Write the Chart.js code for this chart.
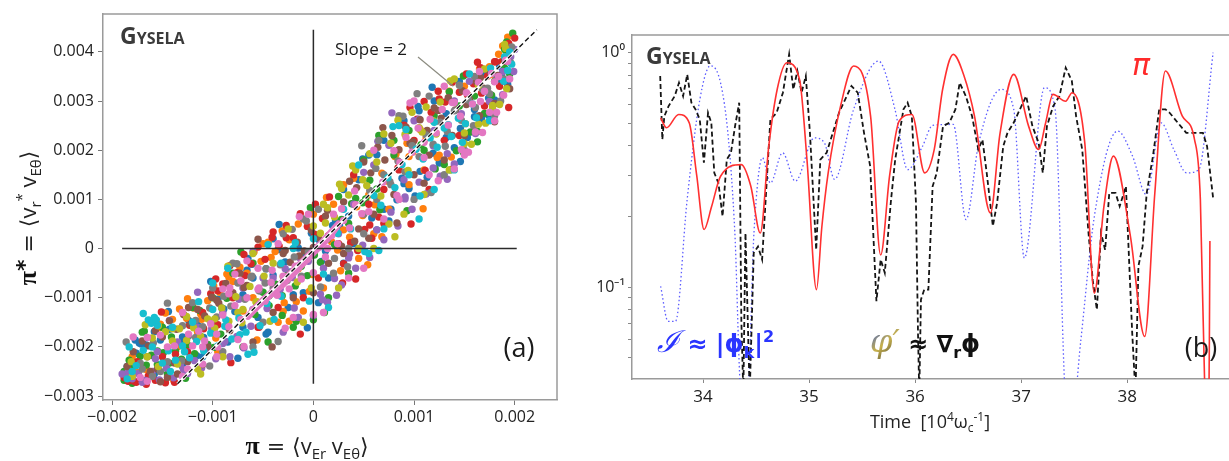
<!DOCTYPE html>
<html>
<head>
<meta charset="utf-8">
<script src="https://cdn.jsdelivr.net/npm/chart.js@4.4.1/dist/chart.umd.min.js"></script>
<style>
  body { margin: 0; background: #fff; }
  #wrap { position: relative; width: 1229px; height: 461px; overflow: hidden; }
  canvas { position: absolute; top: 0; }
  #scatter { left: 0; }
  #series { left: 575px; }
</style>
</head>
<body>
<div id="wrap">
  <canvas id="scatter" width="575" height="461"></canvas>
  <canvas id="series" width="654" height="461"></canvas>
</div>
<script>
// ---- panel (a): pi* versus pi, point pairs in units of 1e-3 ----
const UNIT = 1e-3;
const runBlue = [[-1.76,-2.13],[-1.70,-1.92],[-1.66,-1.96],[-1.58,-1.69],[-1.52,-1.86],[-1.43,-1.64],[-1.38,-1.96],[-1.30,-1.80],[-1.24,-1.46],[-1.15,-1.56],[-1.09,-1.81],[-1.02,-1.49],[-0.95,-1.03],[-0.91,-1.21],[-0.84,-0.98],[-0.78,-1.28],[-0.70,-0.94],[-0.66,-0.44],[-0.60,-0.60],[-0.53,-0.86],[-0.47,-0.41],[-0.40,-0.54],[-0.35,-0.02],[-0.28,-0.27],[-0.22,-0.47],[-0.15,0.01],[-0.08,-0.12],[-0.02,0.31],[0.06,0.17],[0.12,-0.05],[0.19,0.47],[0.26,0.46],
  [0.58,0.62],[0.63,0.38],[0.70,0.80],[0.75,0.56],[0.83,0.99],[0.88,1.43],[0.95,1.22],[1.01,1.07],[1.06,1.57],[1.13,1.45],[1.19,1.94],[1.25,1.74],[1.32,2.26],[1.40,2.05],[1.46,2.44],[1.53,2.26],[1.60,2.68],[1.67,2.64],[1.74,3.06],[1.80,3.02],[1.87,3.40],[1.93,3.34],
  [-1.77,-1.86],[-1.73,-1.92],
  [-1.30,-2.40],[-1.10,-2.20],[-0.85,-1.90],[-0.70,-1.60],[-0.55,-1.40],[-0.45,-1.70],[-0.25,-1.20],[-0.10,-0.90],[0.05,-1.10],[0.15,-0.60],[0.30,-0.30],[0.40,0.10],[0.45,1.40],[0.55,1.90],[0.70,2.20],[0.90,2.60],[1.05,2.80],[1.20,3.00],[1.45,3.40],[1.70,3.55],[1.85,3.70],[0.30,1.20],[-0.40,0.20],[-0.65,-0.20],
  [-1.85,-2.40],[-1.71,-1.94],[-1.58,-2.55],[-1.44,-1.28],[-1.30,-1.92],[-1.16,-2.18],[-1.02,-0.67],[-0.89,-1.23],[-0.75,-2.23],[-0.61,-0.32],[-0.47,-1.74],[-0.34,0.49],[-0.20,-0.94],[-0.06,-1.61],[0.08,-0.26],[0.22,0.56],[0.35,0.66],[0.49,1.82],[0.63,1.91],[0.77,0.80],[0.90,1.32],[1.04,2.89],[1.18,3.28],[1.32,2.74],[1.46,1.77],[1.60,2.83],[1.74,2.71],[1.87,3.54]];
const runOrange = [[-1.52,-1.54],[-1.47,-1.31],[-1.40,-1.44],[-1.33,-1.23],[-1.26,-1.42],[-1.19,-1.21],[-1.12,-1.33],[-1.05,-1.06],[-0.99,-0.76],[-0.93,-0.89],[-0.86,-0.52],[-0.80,-0.67],[-0.73,-0.38],[-0.66,-0.50],[-0.59,-0.07],[-0.52,-0.26],[-0.45,0.13],[-0.38,-0.06],[-0.31,0.36],[-0.24,0.18],
  [0.18,0.14],[0.24,-0.03],[0.30,0.38],[0.36,0.23],[0.43,0.85],[0.49,0.67],[0.55,1.09],[0.61,0.89],[0.68,1.53],[0.74,1.37],[0.81,1.87],[0.87,1.70],[0.93,2.14],[0.99,1.97],[1.06,2.42],[1.12,2.25],[1.18,2.66],
  [1.93,4.30],[1.88,4.12],[1.84,3.95],[-1.83,-2.55],[-1.79,-2.45],[-1.74,-2.52],
  [-0.30,-1.28],[-0.24,-1.48],[-0.17,-1.08],[-0.10,-1.27],[-0.04,-0.87],
  [-1.60,-2.60],[-1.35,-2.00],[-1.15,-1.70],[-0.95,-2.10],[-0.75,-1.80],[-0.60,-1.00],[-0.50,0.10],[-0.35,-1.50],[-0.15,0.50],[0.00,0.70],[0.10,-0.80],[0.20,0.90],[0.30,1.30],[0.45,-0.20],[0.60,0.30],[0.75,0.80],[0.95,1.30],[1.10,1.60],[1.25,1.90],[1.35,3.20],[1.50,3.30],[1.60,2.40],[1.75,3.70],[1.95,3.90],
  [-1.80,-2.20],[-1.66,-2.46],[-1.53,-1.61],[-1.39,-2.67],[-1.25,-1.02],[-1.11,-1.44],[-0.97,-1.82],[-0.84,-0.58],[-0.70,-1.27],[-0.56,-1.86],[-0.42,-0.18],[-0.29,-1.10],[-0.15,-0.41],[-0.01,-0.53],[0.13,1.04],[0.27,-0.45],[0.40,1.43],[0.54,-0.33],[0.68,0.24],[0.82,1.92],[0.95,1.87],[1.09,0.81],[1.23,1.85],[1.37,1.86],[1.51,2.54],[1.65,3.65],[1.79,3.53],[1.92,3.94]];
const runGreen = [[-1.88,-2.50],[-1.83,-2.27],[-1.78,-2.38],[-1.72,-2.19],[-1.66,-2.37],[-1.61,-2.17],[-1.55,-2.36],[-1.49,-2.12],[-1.43,-2.33],[-1.37,-2.09],[-1.31,-2.25],[-1.25,-1.96],[-1.18,-2.14],[-1.12,-1.79],[-1.05,-1.95],[-0.98,-1.57],[-0.92,-1.74],
  [-0.50,-0.89],[-0.44,-1.16],[-0.38,-0.72],[-0.31,-0.96],[-0.25,-0.50],[-0.18,-0.76],[-0.12,-0.36],[-0.06,-0.55],[0.01,-0.13],[0.07,-0.28],[0.14,0.19],[0.21,0.08],[0.28,0.59],[0.35,0.51],[0.42,1.02],[0.49,0.93],[0.56,1.39],[0.63,1.21],
  [1.30,1.71],[1.36,1.60],[1.42,1.99],[1.49,1.96],[1.56,2.37],[1.63,2.38],[1.70,2.75],[1.77,2.78],
  [1.98,4.38],[1.92,4.20],[1.90,4.05],[-1.88,-2.68],[-1.80,-2.74],[-1.45,-2.55],
  [-1.70,-1.70],[-1.50,-1.60],[-1.20,-1.20],[-1.00,-1.00],[-0.80,-0.50],[-0.60,-0.30],[-0.70,-2.00],[-0.45,-1.90],[-0.20,-1.60],[0.00,-1.45],[0.15,-1.00],[0.35,-0.50],[0.50,1.80],[0.65,2.30],[0.80,1.90],[0.95,2.40],[1.10,2.00],[1.20,2.70],[1.45,2.90],[1.60,3.10],[1.80,3.40],[1.95,3.55],
  [-1.82,-2.60],[-1.68,-1.68],[-1.55,-2.08],[-1.41,-1.80],[-1.27,-2.64],[-1.13,-1.26],[-0.99,-2.01],[-0.86,-1.01],[-0.72,-0.07],[-0.58,-1.34],[-0.44,-0.96],[-0.31,-1.36],[-0.17,-1.48],[-0.03,0.83],[0.11,-1.30],[0.25,1.06],[0.38,0.91],[0.52,1.01],[0.66,0.79],[0.80,2.20],[0.93,0.77],[1.07,2.11],[1.21,1.62],[1.35,3.19],[1.49,3.51],[1.63,2.17],[1.77,3.12],[1.90,3.67]];
const runRed = [[-1.02,-0.92],[-0.97,-0.62],[-0.90,-0.72],[-0.83,-0.35],[-0.76,-0.49],[-0.69,-0.12],[-0.62,-0.31],[-0.55,0.03],[-0.48,-0.22],[-0.41,0.23],[-0.34,0.05],[-0.27,0.47],[-0.20,0.22],[-0.13,0.71],[-0.06,0.45],[0.02,0.90],[0.09,0.61],[0.16,1.05],
  [0.90,2.51],[0.96,2.87],[1.03,2.63],[1.10,2.99],[1.17,2.77],[1.24,3.20],[1.31,2.98],[1.38,3.38],[1.45,3.18],[1.52,3.55],[1.59,3.35],[1.66,3.68],[1.73,3.51],[1.80,3.80],[1.87,3.80],[1.94,4.17],
  [-1.88,-2.62],[-1.84,-2.70],[-1.76,-2.72],[-1.66,-2.76],[-1.57,-2.68],[-1.47,-2.73],[-1.38,-2.72],
  [1.63,3.79],[2.00,4.28],
  [0.30,-0.31],[0.37,0.12],[0.44,-0.04],[0.51,0.39],[0.58,0.21],[0.65,0.64],
  [-1.75,-2.30],[-1.50,-2.20],[-1.25,-2.10],[-1.10,-1.30],[-0.95,-1.55],[-0.80,-1.00],[-0.55,-1.60],[-0.35,-1.20],[-0.10,-1.00],[0.05,-0.60],[0.25,0.10],[0.40,1.50],[0.55,0.90],[0.70,1.20],[0.85,1.60],[1.00,2.20],[1.15,1.20],[1.30,2.20],[1.45,2.30],[1.70,2.90],[1.85,3.30],[1.95,3.95],
  [-1.78,-2.70],[-1.64,-2.59],[-1.51,-1.29],[-1.37,-2.15],[-1.23,-1.56],[-1.09,-1.63],[-0.95,-0.86],[-0.82,-2.32],[-0.68,-0.55],[-0.54,-1.60],[-0.40,0.34],[-0.27,0.22],[-0.13,-1.74],[0.01,0.29],[0.15,0.26],[0.29,-0.70],[0.42,-0.62],[0.56,0.48],[0.70,0.51],[0.84,1.64],[0.97,0.50],[1.11,1.59],[1.25,3.04],[1.39,1.63],[1.53,3.13],[1.67,3.16],[1.81,3.80],[1.94,2.87]];
const runPurple = [[-1.80,-2.65],[-1.74,-2.54],[-1.67,-2.68],[-1.60,-2.50],[-1.53,-2.67],[-1.46,-2.43],[-1.39,-2.63],[-1.32,-2.35],[-1.25,-2.54],[-1.18,-2.28],[-1.11,-2.43],[-1.04,-2.07],[-0.97,-2.24],[-0.90,-1.93],[-0.83,-2.20],[-0.76,-1.79],[-0.69,-2.02],[-0.62,-1.58],
  [0.00,-1.36],[0.07,-0.93],[0.14,-1.09],[0.21,-0.61],[0.28,-0.74],[0.35,-0.19],[0.42,-0.40],[0.49,0.07],[0.56,-0.18],[0.63,0.38],[0.70,0.18],[0.77,0.74],[0.84,0.46],[0.91,1.01],[0.98,0.80],[1.05,1.35],[1.12,1.11],[1.19,1.64],[1.26,1.47],[1.33,1.93],[1.40,1.72],
  [2.00,4.05],[1.96,3.90],[1.99,3.60],[-1.84,-2.60],[-1.90,-2.55],
  [-0.40,-0.60],[-0.34,-0.80],[-0.28,-0.41],[-0.21,-0.59],[-0.14,-0.18],
  [-1.55,-2.10],[-1.35,-1.90],[-1.15,-1.60],[-0.90,-1.30],[-0.70,-0.80],[-0.50,-0.60],[-0.30,-1.70],[-0.15,-1.40],[0.10,-0.40],[0.25,0.30],[0.40,0.90],[0.60,1.70],[0.75,2.10],[0.90,1.40],[1.00,2.60],[1.20,2.40],[1.40,3.00],[1.55,3.40],[1.70,3.20],[1.88,3.60],
  [-1.84,-2.50],[-1.70,-2.72],[-1.57,-2.24],[-1.43,-1.46],[-1.29,-2.46],[-1.15,-0.89],[-1.01,-1.63],[-0.88,-1.89],[-0.74,-1.03],[-0.60,-0.06],[-0.46,-1.22],[-0.33,-0.83],[-0.19,-1.21],[-0.05,-0.26],[0.09,-1.04],[0.23,-0.95],[0.36,-0.11],[0.50,1.55],[0.64,2.18],[0.78,2.76],[0.91,1.05],[1.05,2.63],[1.19,2.09],[1.33,1.41],[1.47,2.74],[1.61,2.34],[1.75,2.99],[1.88,3.13]];
const runBrown = [[-1.70,-1.88],[-1.64,-1.98],[-1.57,-1.67],[-1.50,-1.80],[-1.43,-1.47],[-1.36,-1.64],[-1.29,-1.34],[-1.22,-1.54],[-1.15,-1.24],[-1.08,-1.37],[-1.01,-0.99],[-0.94,-1.11],[-0.87,-0.71],[-0.80,-0.90],[-0.73,-0.50],[-0.66,-0.75],
  [0.30,0.95],[0.36,1.37],[0.43,1.24],[0.50,1.76],[0.57,1.54],[0.64,2.06],[0.71,1.80],[0.78,2.30],[0.85,2.01],[0.92,2.47],[0.99,2.17],[1.06,2.62],[1.13,2.40],[1.20,2.86],[1.27,2.65],[1.34,3.07],[1.41,2.82],[1.48,3.21],[1.55,3.03],[1.62,3.39],[1.69,3.26],[1.76,3.58],[1.83,3.52],[1.90,3.81],
  [-1.45,-2.62],[-1.62,-2.50],[-1.35,-2.55],
  [-0.30,-0.10],[-0.23,-0.28],[-0.16,0.13],[-0.09,-0.05],[-0.02,0.37],[0.05,0.22],[0.12,0.66],
  [-1.85,-2.40],[-1.55,-2.45],[-1.25,-2.30],[-1.05,-2.00],[-0.85,-1.60],[-0.60,-1.90],[-0.40,-1.30],[-0.20,-1.00],[0.00,-0.90],[0.15,-0.30],[0.30,-0.10],[0.45,0.40],[0.60,0.70],[0.80,1.10],[1.00,1.50],[1.15,1.90],[1.30,1.80],[1.50,2.30],[1.65,2.70],[1.80,2.95],[1.95,3.25],
  [-1.79,-2.10],[-1.65,-2.20],[-1.52,-2.71],[-1.38,-2.33],[-1.24,-1.20],[-1.10,-2.36],[-0.96,-1.05],[-0.83,-1.67],[-0.69,-0.79],[-0.55,0.19],[-0.41,-2.00],[-0.28,-0.04],[-0.14,-0.15],[0.00,0.02],[0.14,0.78],[0.28,0.05],[0.41,0.15],[0.55,0.21],[0.69,2.46],[0.83,0.52],[0.96,2.14],[1.10,1.33],[1.24,2.81],[1.38,2.30],[1.52,2.93],[1.66,3.48],[1.80,2.58],[1.93,3.27]];
const runGray = [[-1.30,-1.57],[-1.24,-1.78],[-1.17,-1.46],[-1.10,-1.59],[-1.03,-1.21],[-0.96,-1.39],[-0.89,-0.97],[-0.82,-1.17],[-0.75,-0.70],[-0.68,-1.03],[-0.61,-0.56],[-0.54,-0.86],[-0.47,-0.41],[-0.40,-0.80],[-0.33,-0.33],[-0.26,-0.65],[-0.19,-0.17],[-0.12,-0.56],[-0.05,-0.07],
  [0.50,0.70],[0.56,1.18],[0.63,1.00],[0.70,1.50],[0.77,1.30],[0.84,1.78],[0.91,1.56],[0.98,2.09],[1.05,1.87],[1.12,2.31],[1.19,2.12],[1.26,2.57],[1.33,2.38],[1.40,2.80],[1.47,2.61],[1.54,3.02],[1.61,2.87],[1.68,3.24],[1.75,3.15],[1.82,3.49],[1.89,3.45],[1.96,3.78],
  [-1.60,-2.60],[-1.52,-2.50],
  [-1.70,-2.45],[-1.45,-2.30],[-1.20,-1.10],[-1.00,-0.80],[-0.80,-0.30],[-0.60,-2.00],[-0.50,-1.50],[-0.30,0.30],[-0.10,0.60],[0.05,0.80],[0.20,-0.50],[0.35,0.00],[0.50,0.30],[0.65,2.20],[0.85,2.70],[1.00,1.00],[1.15,3.10],[1.30,1.50],[1.50,2.00],[1.60,3.50],[1.80,2.70],[1.97,4.10],
  [-1.86,-1.90],[-1.72,-2.33],[-1.59,-1.92],[-1.45,-1.11],[-1.31,-2.28],[-1.17,-1.81],[-1.03,-2.39],[-0.90,-2.10],[-0.76,-0.31],[-0.62,-0.58],[-0.48,-0.70],[-0.35,-1.89],[-0.21,0.39],[-0.07,0.56],[0.07,-0.78],[0.21,-0.20],[0.34,-0.37],[0.48,2.09],[0.62,1.63],[0.76,1.36],[0.89,2.69],[1.03,3.15],[1.17,1.14],[1.31,2.08],[1.45,3.32],[1.59,2.50],[1.73,3.26],[1.86,3.00]];
const runOlive = [[-1.60,-1.82],[-1.54,-1.57],[-1.47,-1.69],[-1.40,-1.88],[-1.33,-1.63],[-1.26,-1.87],[-1.19,-1.61],[-1.12,-1.79],[-1.05,-1.43],[-0.98,-1.62],[-0.91,-1.21],[-0.84,-1.48],[-0.77,-0.98],[-0.70,-1.24],[-0.63,-0.77],[-0.56,-1.08],[-0.49,-0.56],
  [0.00,0.46],[0.07,0.31],[0.14,0.83],[0.21,0.64],[0.28,1.22],[0.35,1.09],[0.42,1.60],[0.49,1.40],[0.56,1.93],[0.63,1.76],[0.70,2.33],[0.77,2.14],[0.84,2.61],[0.91,2.32],[0.98,2.77],[1.05,2.46],[1.12,2.88],[1.19,2.60],[1.26,2.98],
  [1.50,2.13],[1.57,2.12],[1.64,2.53],[1.71,2.55],[1.78,2.91],[1.85,2.93],[1.92,3.25],
  [-1.80,-2.60],[-1.65,-2.20],[-1.35,-2.35],[-1.15,-2.45],[-0.90,-2.20],[-0.75,-1.30],[-0.60,-0.10],[-0.40,-0.30],[-0.25,0.40],[-0.10,-1.50],[0.10,0.90],[0.25,-0.80],[0.45,0.00],[0.60,0.00],[0.75,0.50],[0.90,0.70],[1.10,1.10],[1.35,1.60],[1.40,3.45],[1.70,3.65],[1.90,4.15],
  [-1.81,-2.30],[-1.67,-1.55],[-1.54,-2.40],[-1.40,-1.63],[-1.26,-1.38],[-1.12,-2.55],[-0.98,-1.43],[-0.85,-0.36],[-0.71,-1.51],[-0.57,-1.09],[-0.43,-1.48],[-0.30,-0.57],[-0.16,-0.68],[-0.02,-0.80],[0.12,0.52],[0.26,1.31],[0.39,1.68],[0.53,1.28],[0.67,1.07],[0.81,0.24],[0.94,1.59],[1.08,2.37],[1.22,2.33],[1.36,3.41],[1.50,2.35],[1.64,3.32],[1.78,2.85],[1.91,4.07]];
const runCyan = [[-1.50,-2.33],[-1.44,-2.08],[-1.37,-2.27],[-1.30,-1.98],[-1.23,-2.22],[-1.16,-1.89],[-1.09,-2.08],[-1.02,-1.72],[-0.95,-1.98],[-0.88,-1.58],[-0.81,-1.84],[-0.74,-1.41],[-0.67,-1.70],[-0.60,-1.24],[-0.53,-1.57],[-0.46,-1.12],[-0.39,-1.44],[-0.32,-0.97],
  [0.60,1.08],[0.67,0.88],[0.74,1.44],[0.81,1.24],[0.88,1.71],[0.95,1.50],[1.02,2.02],[1.09,1.82],[1.16,2.25],[1.23,2.06],[1.30,2.45],[1.37,2.28],[1.44,2.65],[1.51,2.54],[1.58,2.94],
  [-1.69,-1.32],[-1.64,-1.45],[-1.58,-1.40],[-1.55,-1.56],[-1.61,-1.52],
  [1.97,3.75],[1.93,3.62],[1.95,4.00],[-1.80,-2.50],[-1.76,-2.38],
  [-1.85,-2.65],[-1.60,-2.00],[-1.40,-1.60],[-1.20,-1.50],[-1.00,-0.70],[-0.85,-0.40],[-0.65,-2.15],[-0.40,-0.90],[-0.20,0.00],[0.00,0.20],[0.15,-1.20],[0.30,0.80],[0.45,1.70],[0.55,-0.10],[0.70,0.40],[0.85,2.50],[1.05,0.60],[1.20,1.20],[1.40,1.60],[1.55,3.55],[1.75,2.60],[1.90,3.90],
  [-1.83,-2.00],[-1.69,-2.07],[-1.56,-1.45],[-1.42,-2.50],[-1.28,-2.10],[-1.14,-1.08],[-1.00,-1.24],[-0.87,-1.45],[-0.73,-1.75],[-0.59,-2.11],[-0.45,0.08],[-0.32,-0.30],[-0.18,0.12],[-0.04,-1.07],[0.10,-0.52],[0.24,0.31],[0.37,0.40],[0.51,-0.06],[0.65,-0.04],[0.79,2.48],[0.92,2.42],[1.06,1.07],[1.20,2.57],[1.34,2.52],[1.48,2.16],[1.62,2.66],[1.76,3.67],[1.89,3.40]];
const runPink = [[-1.20,-1.98],[-1.14,-1.68],[-1.08,-1.88],[-1.02,-1.53],[-0.96,-1.74],[-0.90,-1.35],[-0.84,-1.59],[-0.78,-1.16],[-0.72,-1.44],[-0.66,-1.00],[-0.60,-1.24],[-0.54,-0.80],[-0.48,-1.07],[-0.42,-0.69],[-0.36,-0.95],[-0.30,-0.56],[-0.24,-0.82],[-0.18,-0.36],[-0.12,-0.62],[-0.06,-0.22],[0.00,-0.49],[0.06,0.03],[0.12,-0.17],[0.18,0.26],[0.24,0.10],[0.30,0.57],[0.36,0.42],[0.42,0.89],[0.48,0.71],
  [0.80,1.99],[0.86,1.75],[0.92,2.26],[0.98,1.96],[1.04,2.45],[1.10,2.16],[1.16,2.63],[1.22,2.35],[1.28,2.83],[1.34,2.51],[1.40,2.97],[1.46,2.69],[1.52,3.17],[1.58,2.94],[1.64,3.38],[1.70,3.20],[1.77,3.56],[1.84,3.50],[1.91,3.83],
  [-1.72,-2.62],[-1.65,-2.70],[-1.30,-2.60],[-1.25,-2.45],
  [-0.90,-0.82],[-0.84,-0.92],[-0.78,-0.52],[-0.72,-0.66],[-0.66,-0.25],
  [1.40,1.62],[1.47,2.01],[1.54,1.96],[1.61,2.37],[1.68,2.36],[1.75,2.77],[1.82,2.77],[1.89,3.12],
  [-1.45,-2.00],[-1.30,-1.30],[-1.10,-2.35],[-0.95,-2.00],[-0.75,-1.85],[-0.55,-0.40],[-0.35,0.10],[-0.20,-1.40],[-0.05,0.70],[0.10,-1.30],[0.20,0.70],[0.35,-0.60],[0.50,-0.40],[0.60,2.00],[0.70,0.60],[0.85,1.00],[1.00,3.00],[1.15,1.50],[1.30,3.30],[1.50,1.90],[1.65,3.60],[1.80,2.60],[1.95,3.45],
  [-1.79,-1.80],[-1.65,-1.81],[-1.52,-1.76],[-1.38,-1.98],[-1.24,-1.74],[-1.10,-2.00],[-0.96,-2.20],[-0.83,-0.80],[-0.69,-1.99],[-0.55,-0.83],[-0.41,-0.44],[-0.28,-1.62],[-0.14,0.65],[0.00,-1.34],[0.14,0.00],[0.28,0.81],[0.41,1.17],[0.55,0.75],[0.69,1.35],[0.83,1.08],[0.96,2.96],[1.10,1.85],[1.24,1.38],[1.38,2.97],[1.52,1.96],[1.66,2.99],[1.80,3.39],[1.93,3.81]];
// dense pink streak near the origin, drawn as a thick stroke
const pinkCore = [[-0.65,-1.38],[-0.50,-1.05],[-0.35,-0.78],[-0.20,-0.45],[-0.05,-0.15],[0.10,0.15],[0.25,0.50],[0.15,0.22],[0.00,-0.08],[-0.15,-0.40],[-0.30,-0.72],[-0.45,-0.98],[-0.60,-1.25]];

const runs = [runBlue, runOrange, runGreen, runRed, runPurple, runBrown, runGray, runOlive, runCyan, runPink];
const runColors = ['#1f77b4', '#ff7f0e', '#2ca02c', '#d62728', '#9467bd', '#8c564b', '#7f7f7f', '#bcbd22', '#17becf', '#e377c2'];

const slopeLine = [[-1.35, -2.75], [2.22, 4.45]];
const zeroLineX = [[-1.90, 0], [2.02, 0]];
const zeroLineY = [[0, -2.75], [0, 4.45]];

const aTicksX = [-0.002, -0.001, 0, 0.001, 0.002];
const aTicksY = [-0.003, -0.002, -0.001, 0, 0.001, 0.002, 0.003, 0.004];

// ---- panel (b): normalised signals versus time [1e4 / omega_c] ----
const piTime = [33.60, 33.655, 33.77, 33.87, 33.94, 34.01, 34.08, 34.165, 34.36, 34.45, 34.54, 34.62, 34.70, 34.79, 34.91, 34.98, 35.07, 35.12, 35.18, 35.30, 35.42, 35.58, 35.675, 35.76, 35.85, 35.97, 36.09, 36.18, 36.26, 36.36, 36.46, 36.56, 36.71, 36.80, 36.93, 37.07, 37.165, 37.23, 37.30, 37.42, 37.48, 37.60, 37.69, 37.78, 37.87, 38.03, 38.165, 38.26, 38.36, 38.52, 38.635, 38.69, 38.745, 38.765, 38.78];
const piValue = [0.527, 0.478, 0.545, 0.502, 0.30, 0.176, 0.22, 0.297, 0.333, 0.27, 0.170, 0.40, 0.70, 0.906, 0.769, 0.35, 0.0975, 0.18, 0.307, 0.60, 0.877, 0.536, 0.137, 0.30, 0.511, 0.545, 0.307, 0.386, 0.70, 0.984, 0.80, 0.536, 0.207, 0.45, 0.808, 0.486, 0.386, 0.50, 0.664, 0.621, 0.675, 0.412, 0.0942, 0.22, 0.362, 0.165, 0.0615, 0.25, 0.835, 0.536, 0.426, 0.236, 0.02, 0.015, 0.157];

const iTime = [33.60, 33.67, 33.74, 33.85, 33.97, 34.07, 34.165, 34.24, 34.30, 34.36, 34.42, 34.48, 34.56, 34.635, 34.75, 34.87, 35.05, 35.145, 35.24, 35.42, 35.655, 35.81, 35.93, 36.07, 36.165, 36.36, 36.48, 36.60, 36.81, 36.93, 37.03, 37.22, 37.32, 37.43, 37.49, 37.56, 37.69, 37.91, 38.05, 38.18, 38.32, 38.44, 38.56, 38.675, 38.81];
const iValue = [0.1007, 0.0714, 0.0714, 0.236, 0.632, 0.88, 0.744, 0.426, 0.170, 0.035, 0.035, 0.170, 0.356, 0.278, 0.374, 0.283, 0.433, 0.412, 0.288, 0.573, 0.921, 0.573, 0.317, 0.399, 0.49, 0.494, 0.194, 0.412, 0.697, 0.573, 0.133, 0.709, 0.573, 0.03, 0.03, 0.0577, 0.2, 0.463, 0.362, 0.248, 0.502, 0.386, 0.307, 0.317, 1.0];

const phiTime = [33.596, 33.616, 33.635, 33.675, 33.733, 33.773, 33.812, 33.851, 33.89, 33.929, 33.969, 34.008, 34.047, 34.078, 34.106, 34.145, 34.184, 34.224, 34.263, 34.302, 34.341, 34.361, 34.38, 34.40, 34.44, 34.478, 34.518, 34.557, 34.635, 34.694, 34.753, 34.812, 34.851, 34.89, 34.929, 34.969, 35.008, 35.067, 35.106, 35.165, 35.224, 35.282, 35.341, 35.40, 35.459, 35.518, 35.576, 35.635, 35.675, 35.714, 35.773, 35.812, 35.89, 35.929, 35.969, 36.008, 36.027, 36.039, 36.055, 36.086, 36.125, 36.165, 36.204, 36.263, 36.322, 36.38, 36.42, 36.478, 36.537, 36.596, 36.635, 36.675, 36.733, 36.773, 36.831, 36.871, 36.929, 36.988, 37.047, 37.106, 37.165, 37.204, 37.243, 37.302, 37.361, 37.42, 37.478, 37.518, 37.576, 37.635, 37.675, 37.714, 37.753, 37.792, 37.831, 37.89, 37.929, 37.988, 38.047, 38.078, 38.106, 38.145, 38.184, 38.243, 38.302, 38.361, 38.40, 38.478, 38.557, 38.635, 38.714, 38.753, 38.812];
const phiValue = [0.795, 0.426, 0.536, 0.592, 0.653, 0.744, 0.653, 0.808, 0.612, 0.573, 0.519, 0.339, 0.554, 0.502, 0.307, 0.278, 0.20, 0.35, 0.374, 0.486, 0.612, 0.0725, 0.035, 0.17, 0.035, 0.14, 0.149, 0.131, 0.519, 0.554, 0.675, 0.984, 0.697, 0.835, 0.675, 0.795, 0.455, 0.144, 0.35, 0.374, 0.455, 0.554, 0.632, 0.721, 0.675, 0.455, 0.328, 0.087, 0.131, 0.115, 0.236, 0.35, 0.573, 0.612, 0.536, 0.228, 0.064, 0.035, 0.0884, 0.0975, 0.0975, 0.269, 0.307, 0.486, 0.502, 0.573, 0.744, 0.653, 0.536, 0.386, 0.426, 0.307, 0.182, 0.228, 0.399, 0.455, 0.502, 0.573, 0.653, 0.486, 0.412, 0.307, 0.486, 0.592, 0.653, 0.863, 0.757, 0.536, 0.386, 0.17, 0.107, 0.08, 0.17, 0.144, 0.252, 0.252, 0.221, 0.269, 0.064, 0.035, 0.123, 0.149, 0.252, 0.362, 0.573, 0.573, 0.554, 0.502, 0.455, 0.455, 0.455, 0.399, 0.236];

const bTicksX = [34, 35, 36, 37, 38];
const bTicksY = [0.05, 0.06, 0.07, 0.08, 0.09, 0.1, 0.2, 0.3, 0.4, 0.5, 0.6, 0.7, 0.8, 0.9, 1];

Chart.defaults.font.family = '"Open Sans", sans-serif';
Chart.defaults.color = '#222';

function toXY(list, scale) {
  return list.map(p => ({ x: p[0] * scale, y: p[1] * scale }));
}
function pairs(xs, ys) {
  return xs.map((x, i) => ({ x: x, y: ys[i] }));
}
// draws a row of text pieces: [text, font, colour, baseline shift]
function drawRich(ctx, parts, x, y, align) {
  let w = 0;
  parts.forEach(p => { ctx.font = p[1]; w += ctx.measureText(p[0]).width; });
  let cx = align === 'center' ? x - w / 2 : x;
  parts.forEach(p => {
    ctx.font = p[1];
    ctx.fillStyle = p[2];
    ctx.fillText(p[0], cx, y + (p[3] || 0));
    cx += ctx.measureText(p[0]).width;
  });
}
function gysela(ctx, x, y) {
  drawRich(ctx, [['G', 'bold 23px "Open Sans"', '#3b3b3b'], ['YSELA', 'bold 16px "Open Sans"', '#3b3b3b']], x, y, 'left');
}
function minus(v) {
  if (v === 0) return '0';
  return (v < 0 ? '\u2212' : '') + Math.abs(v).toFixed(3);
}

// ---------- panel (a) ----------
// lower "order" is painted later (on top)
const scatterSets = runs.map((run, i) => ({
  data: toXY(run, UNIT),
  order: 30 - i,
  backgroundColor: runColors[i],
  borderColor: runColors[i],
  pointRadius: 3.7,
  pointBorderWidth: 0
}));
scatterSets.push({
  data: toXY(pinkCore, UNIT), order: 12, showLine: true, borderColor: '#e377c2',
  borderWidth: 7, borderJoinStyle: 'round', borderCapStyle: 'round', pointRadius: 0
});
scatterSets.push({ data: toXY(zeroLineX, UNIT), order: 3, showLine: true, borderColor: '#2b2b2b', borderWidth: 1.5, pointRadius: 0 });
scatterSets.push({ data: toXY(zeroLineY, UNIT), order: 3, showLine: true, borderColor: '#2b2b2b', borderWidth: 1.5, pointRadius: 0 });
scatterSets.push({ data: toXY(slopeLine, UNIT), order: 1, showLine: true, borderColor: '#ffffff', borderWidth: 3, pointRadius: 0 });
scatterSets.push({ data: toXY(slopeLine, UNIT), order: 0, showLine: true, borderColor: '#111111', borderWidth: 1.4, borderDash: [5, 3], pointRadius: 0 });

const panelA = {
  id: 'panelA',
  afterDraw(chart) {
    const ctx = chart.ctx, a = chart.chartArea;
    const sx = chart.scales.x, sy = chart.scales.y;
    ctx.save();
    ctx.strokeStyle = '#9a9a9a';
    ctx.lineWidth = 1.5;
    ctx.beginPath();
    ctx.moveTo(a.left, a.top);
    ctx.lineTo(a.right, a.top);
    ctx.lineTo(a.right, a.bottom);
    ctx.stroke();

    // leader from the label to the fitted line
    ctx.strokeStyle = '#8c8c80';
    ctx.lineWidth = 1.2;
    ctx.beginPath();
    ctx.moveTo(418, 57);
    ctx.lineTo(sx.getPixelForValue(0.00139), sy.getPixelForValue(0.0033));
    ctx.stroke();

    ctx.textBaseline = 'alphabetic';
    gysela(ctx, 120, 44);
    drawRich(ctx, [['Slope = 2', '17px "Open Sans"', '#1a1a1a']], 371, 55, 'center');
    drawRich(ctx, [['(a)', '27px "Open Sans"', '#1a1a1a']], 519, 357, 'center');

    // x title
    drawRich(ctx, [
      ['\u03c0', 'bold 26px "Liberation Serif"', '#111'],
      [' = \u27e8', '22px "DejaVu Sans"', '#222'],
      ['v', '22px "Open Sans"', '#222'],
      ['Er', '15px "Open Sans"', '#222', 5],
      [' v', '22px "Open Sans"', '#222'],
      ['E\u03b8', '15px "Open Sans"', '#222', 5],
      ['\u27e9', '22px "DejaVu Sans"', '#222']
    ], 307, 454, 'center');

    // y title, rotated
    ctx.translate(36, 218);
    ctx.rotate(-Math.PI / 2);
    drawRich(ctx, [
      ['\u03c0', 'bold 26px "Liberation Serif"', '#111'],
      ['*', 'bold 22px "DejaVu Sans"', '#111', -4],
      [' = \u27e8', '22px "DejaVu Sans"', '#222'],
      ['v', '22px "Open Sans"', '#222'],
      ['r', '15px "Open Sans"', '#222', 5],
      ['*', '15px "Open Sans"', '#222', -9],
      [' v', '22px "Open Sans"', '#222'],
      ['E\u03b8', '15px "Open Sans"', '#222', 5],
      ['\u27e9', '22px "DejaVu Sans"', '#222']
    ], 0, 0, 'center');
    ctx.restore();
  }
};

new Chart(document.getElementById('scatter'), {
  type: 'scatter',
  data: { datasets: scatterSets },
  options: {
    responsive: false,
    animation: false,
    layout: { padding: { top: 14, right: 18, left: 0, bottom: 0 } },
    plugins: { legend: { display: false }, tooltip: { enabled: false } },
    scales: {
      x: {
        type: 'linear', min: -0.00209, max: 0.00242,
        afterBuildTicks: s => { s.ticks = aTicksX.map(v => ({ value: v })); },
        afterFit: s => { s.height = 61; },
        ticks: { callback: v => minus(v), font: { size: 16 }, color: '#222', padding: 3, maxRotation: 0 },
        grid: { drawOnChartArea: false, tickLength: 5, color: '#777' },
        border: { color: '#9a9a9a', width: 1.5 }
      },
      y: {
        type: 'linear', min: -0.00308, max: 0.00477,
        afterBuildTicks: s => { s.ticks = aTicksY.map(v => ({ value: v })); },
        afterFit: s => { s.width = 103; },
        ticks: { callback: v => minus(v), font: { size: 16 }, color: '#222', padding: 4 },
        grid: { drawOnChartArea: false, tickLength: 5, color: '#777' },
        border: { color: '#9a9a9a', width: 1.5 }
      }
    }
  },
  plugins: [panelA]
});

// ---------- panel (b) ----------
const panelB = {
  id: 'panelB',
  afterDraw(chart) {
    const ctx = chart.ctx, a = chart.chartArea;
    ctx.save();
    ctx.strokeStyle = '#9a9a9a';
    ctx.lineWidth = 1.5;
    ctx.beginPath();
    ctx.moveTo(a.left, a.top);
    ctx.lineTo(a.right, a.top);
    ctx.stroke();

    ctx.textBaseline = 'alphabetic';
    gysela(ctx, 71, 64);
    drawRich(ctx, [['\u03c0', 'italic 30px "DejaVu Sans"', '#ff2a2a']], 566, 75, 'center');
    drawRich(ctx, [['(b)', '27px "Open Sans"', '#1a1a1a']], 626, 357, 'center');

    drawRich(ctx, [
      ['\u2110', 'italic 30px "DejaVu Serif"', '#2a35ff'],
      [' \u2248 |\u03d5', 'bold 24px "DejaVu Sans"', '#2a35ff'],
      ['k', 'bold 16px "DejaVu Sans"', '#2a35ff', 6],
      ['|', 'bold 24px "DejaVu Sans"', '#2a35ff'],
      ['2', 'bold 16px "DejaVu Sans"', '#2a35ff', -10]
    ], 82, 352, 'left');

    const g = ctx.createLinearGradient(295, 330, 320, 360);
    g.addColorStop(0, '#3a5bd0');
    g.addColorStop(0.5, '#c9b24a');
    g.addColorStop(1, '#3a3a3a');
    drawRich(ctx, [
      ['\u03c6\u2032', 'italic 32px "DejaVu Serif"', g],
      [' \u2248 \u2207', 'bold 24px "DejaVu Sans"', '#111'],
      ['r', 'bold 16px "DejaVu Sans"', '#111', 6],
      ['\u03d5', 'bold 24px "DejaVu Sans"', '#111']
    ], 295, 352, 'left');

    drawRich(ctx, [
      ['Time  [10', '18px "Open Sans"', '#222'],
      ['4', '12px "Open Sans"', '#222', -7],
      ['\u03c9', '18px "Open Sans"', '#222'],
      ['c', '12px "Open Sans"', '#222', 4],
      ['-1', '12px "Open Sans"', '#222', -7],
      [']', '18px "Open Sans"', '#222']
    ], 355, 428, 'center');
    ctx.restore();
  }
};

new Chart(document.getElementById('series'), {
  type: 'line',
  data: {
    datasets: [
      { data: pairs(iTime, iValue), order: 2, borderColor: '#5b5bff', borderWidth: 1.3, borderDash: [1.5, 2.5], pointRadius: 0, cubicInterpolationMode: 'monotone' },
      { data: pairs(phiTime, phiValue), order: 1, borderColor: '#151515', borderWidth: 1.8, borderDash: [5, 3], pointRadius: 0, tension: 0 },
      { data: pairs(piTime, piValue), order: 0, borderColor: '#ff3030', borderWidth: 1.6, pointRadius: 0, cubicInterpolationMode: 'monotone' }
    ]
  },
  options: {
    responsive: false,
    animation: false,
    layout: { padding: { top: 35, right: 0, left: 0, bottom: 0 } },
    plugins: { legend: { display: false }, tooltip: { enabled: false } },
    scales: {
      x: {
        type: 'linear', min: 33.33, max: 38.96,
        afterBuildTicks: s => { s.ticks = bTicksX.map(v => ({ value: v })); },
        afterFit: s => { s.height = 82; },
        ticks: { font: { size: 17 }, color: '#222', padding: 4, maxRotation: 0 },
        grid: { drawOnChartArea: false, tickLength: 4, color: '#888' },
        border: { color: '#9a9a9a', width: 1.5 }
      },
      y: {
        type: 'logarithmic', min: 0.0405, max: 1.19,
        afterBuildTicks: s => { s.ticks = bTicksY.map(v => ({ value: v })); },
        afterFit: s => { s.width = 57; },
        ticks: {
          callback: v => (v === 1 ? '10\u2070' : (v === 0.1 ? '10\u207b\u00b9' : '')),
          font: { size: 16 }, color: '#222', padding: 3, autoSkip: false
        },
        grid: { drawOnChartArea: false, tickLength: 4, color: '#888' },
        border: { color: '#9a9a9a', width: 1.5 }
      }
    }
  },
  plugins: [panelB]
});
</script>
</body>
</html>
